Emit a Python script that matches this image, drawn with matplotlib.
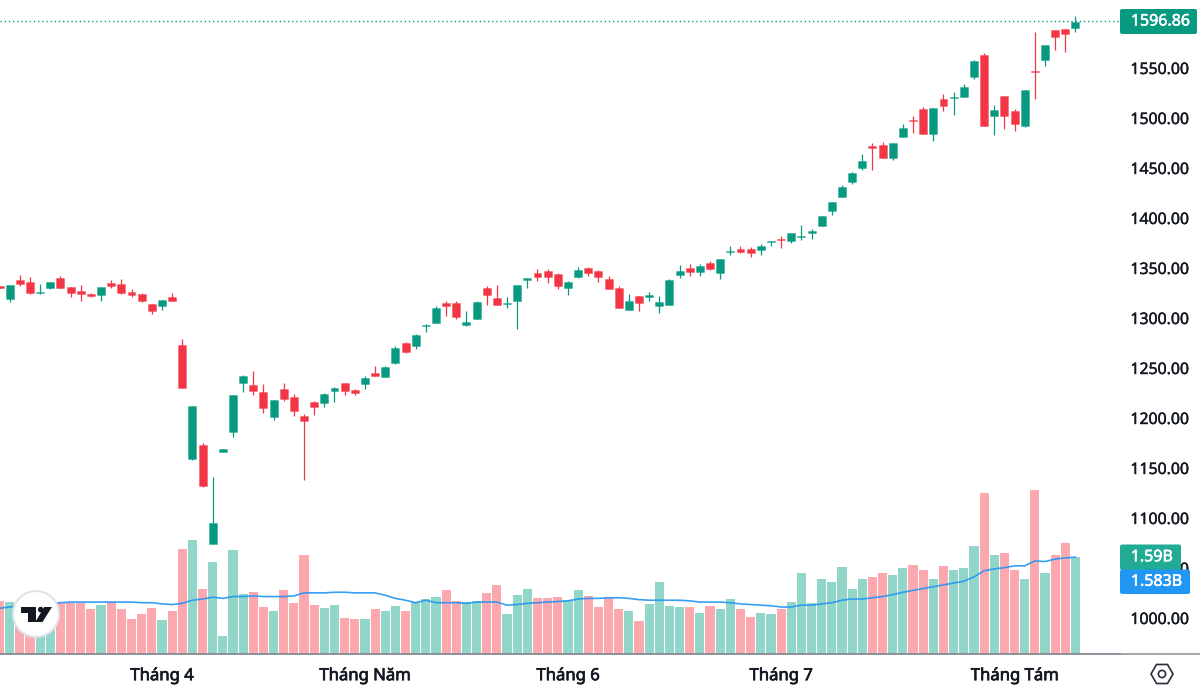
import matplotlib
matplotlib.use("Agg")
import matplotlib.pyplot as plt
import matplotlib.patheffects as pe
from matplotlib.patches import Circle, FancyBboxPatch, Polygon, RegularPolygon
from matplotlib.lines import Line2D
from matplotlib.transforms import IdentityTransform

plt.rcParams['font.family'] = ['Noto Sans', 'DejaVu Sans']

# Candles.
opens = [
    1332.3, 1319, 1338.3, 1336, 1325.3, 1330.3, 1340, 1330.7, 1327, 1324.3,
    1322.7, 1335.3, 1333.7, 1326, 1324.3, 1314, 1312.3, 1321.3, 1273, 1159.3,
    1173, 1073.7, 1166, 1185.7, 1235.3, 1233, 1225.7, 1201.3, 1229, 1220.7,
    1202, 1216, 1214.7, 1226.7, 1234.7, 1227.7, 1234.3, 1245, 1240.7, 1255.3,
    1275, 1272.3, 1292.3, 1294.7, 1315, 1314.7, 1292.7, 1298.7, 1329.7, 1320.3,
    1314.3, 1317.3, 1337.7, 1345, 1346.7, 1344, 1330, 1341, 1350.3, 1346.7,
    1339, 1329.7, 1307.7, 1322.3, 1320.7, 1312.3, 1313.3, 1343.3, 1350.3, 1346,
    1354.7, 1345, 1365.7, 1369, 1369, 1368, 1375.7, 1378.7, 1376.7, 1381,
    1385, 1392.3, 1406.7, 1420.7, 1436.3, 1450.3, 1472, 1473.3, 1460, 1481.3,
    1498, 1509, 1484, 1519, 1520.3, 1521.3, 1540.7, 1563, 1502, 1521.7,
    1506.7, 1492.3, 1547.3, 1557.7, 1588, 1589, 1590.3]
closes = [
    1330.3, 1332.7, 1334, 1325.3, 1326, 1336.3, 1330.3, 1324.7, 1323.7, 1321.7,
    1330.7, 1332, 1325.3, 1323.3, 1317, 1307, 1317.7, 1317, 1229.7, 1211.7,
    1132.3, 1095, 1168.7, 1222.7, 1242, 1227.3, 1210, 1217.7, 1219, 1207,
    1196.7, 1210.7, 1223.7, 1230, 1226.7, 1225, 1240.3, 1241.7, 1250.7, 1270.3,
    1266.3, 1283, 1293.3, 1310, 1312.3, 1301, 1296, 1315.7, 1322.7, 1313.3,
    1315, 1332.7, 1340, 1341, 1341.3, 1332, 1336.3, 1347.7, 1345, 1341.3,
    1329, 1310.3, 1316.7, 1315, 1323.3, 1315.7, 1338, 1347.3, 1346, 1352,
    1348.7, 1358.7, 1367, 1366.3, 1365.3, 1372, 1376.7, 1377.7, 1384.7, 1381.7,
    1386.7, 1402.3, 1415.7, 1431.3, 1445.3, 1457.3, 1470, 1460, 1475.3, 1490,
    1497.3, 1484, 1509.7, 1512, 1521, 1531.3, 1557.3, 1492.3, 1507.7, 1502,
    1494.3, 1528.3, 1546.3, 1573.3, 1581, 1583.7, 1596.3]
highs = [
    1332.3, 1332.7, 1343, 1340.7, 1334, 1336.3, 1342, 1330.7, 1333, 1325,
    1330.7, 1338.3, 1339.3, 1329, 1325, 1314, 1317.7, 1325, 1278.7, 1211.7,
    1175, 1141.3, 1168.7, 1222.7, 1243, 1247, 1233.7, 1217.7, 1234.7, 1223.7,
    1203.7, 1217, 1224.7, 1231, 1234.7, 1229.3, 1242, 1251.7, 1251.7, 1272,
    1276, 1284, 1294.3, 1312, 1317, 1316.7, 1306.7, 1316.7, 1331.7, 1332.7,
    1320.7, 1332.7, 1340, 1348.7, 1348.7, 1345, 1337.3, 1351.3, 1351.3, 1347.7,
    1342, 1331.7, 1324.3, 1322.3, 1326.3, 1321.7, 1339, 1353, 1354, 1354,
    1356.7, 1358.7, 1372, 1371.7, 1371, 1374, 1377, 1382, 1384.7, 1392.7,
    1388.7, 1402.3, 1415.7, 1432.7, 1446.3, 1464, 1474.7, 1476, 1475.3, 1493.7,
    1501.7, 1511.3, 1509.7, 1523.7, 1525.7, 1534, 1558.3, 1565, 1512.7, 1521.7,
    1509, 1528.3, 1585.7, 1573.3, 1588, 1589, 1602]
lows = [
    1330.3, 1316.3, 1332.3, 1324.3, 1324.3, 1329.3, 1330.3, 1321.3, 1317, 1321,
    1317, 1330.3, 1324.3, 1321.3, 1316.3, 1304, 1308.3, 1317, 1229.7, 1158.3,
    1131.3, 1073.7, 1166, 1181.3, 1226.3, 1223, 1205, 1198.3, 1217, 1202,
    1138, 1203, 1210.7, 1216.3, 1223, 1222.7, 1229.3, 1241.7, 1240.7, 1253.7,
    1265.3, 1268.7, 1286.3, 1294.7, 1302, 1299.3, 1292, 1298.7, 1313.3, 1313.3,
    1309.7, 1289, 1330.3, 1337.3, 1335.3, 1329, 1323.3, 1340, 1342.3, 1336.3,
    1329, 1310.3, 1307.7, 1306.7, 1317.3, 1305, 1313.3, 1340.3, 1342.3, 1342.3,
    1347.7, 1339.3, 1362.7, 1365, 1360.7, 1363, 1372.3, 1370.3, 1375.3, 1377.7,
    1379.3, 1392.3, 1403.3, 1420.7, 1434.3, 1448.3, 1448.3, 1460, 1457.7, 1481.3,
    1485, 1484, 1476.7, 1507.3, 1503.3, 1521.3, 1539, 1492.3, 1483, 1488.7,
    1486.7, 1491.3, 1519.3, 1552.3, 1568, 1566, 1586.3]

# Volume in billions, and its moving average.
volumes = [
    0.87, 0.85, 0.82, 0.80, 0.79, 0.80, 0.84, 0.84, 0.84, 0.73,
    0.80, 0.85, 0.74, 0.58, 0.65, 0.75, 0.56, 0.71, 1.71, 1.86,
    1.06, 1.51, 0.30, 1.70, 0.98, 1.01, 0.77, 0.71, 1.05, 0.84,
    1.61, 0.80, 0.75, 0.80, 0.59, 0.58, 0.58, 0.73, 0.71, 0.79,
    0.70, 0.85, 0.90, 0.93, 1.05, 0.86, 0.85, 0.86, 1.00, 1.12,
    0.65, 0.97, 1.06, 0.91, 0.91, 0.93, 0.88, 1.05, 0.95, 0.77,
    0.91, 0.73, 0.71, 0.54, 0.82, 1.17, 0.79, 0.77, 0.77, 0.67,
    0.79, 0.74, 0.90, 0.74, 0.61, 0.68, 0.65, 0.74, 0.85, 1.32,
    0.83, 1.23, 1.18, 1.42, 1.07, 1.23, 1.26, 1.33, 1.29, 1.41,
    1.45, 1.38, 1.23, 1.44, 1.38, 1.41, 1.77, 2.62, 1.62, 1.65,
    1.38, 1.23, 2.67, 1.32, 1.61, 1.81, 1.59]
volume_ma = [
    0.75, 0.77, 0.79, 0.81, 0.82, 0.83, 0.84, 0.85, 0.85, 0.85,
    0.85, 0.85, 0.85, 0.85, 0.84, 0.84, 0.82, 0.81, 0.83, 0.88,
    0.90, 0.93, 0.91, 0.94, 0.94, 0.95, 0.94, 0.94, 0.94, 0.95,
    1.00, 1.00, 1.00, 1.01, 1.01, 1.00, 1.00, 1.00, 0.96, 0.91,
    0.88, 0.84, 0.88, 0.84, 0.84, 0.84, 0.83, 0.85, 0.85, 0.85,
    0.80, 0.81, 0.83, 0.84, 0.85, 0.86, 0.87, 0.90, 0.91, 0.91,
    0.92, 0.92, 0.91, 0.89, 0.88, 0.88, 0.88, 0.88, 0.87, 0.85,
    0.85, 0.85, 0.84, 0.82, 0.81, 0.80, 0.79, 0.77, 0.77, 0.80,
    0.80, 0.82, 0.84, 0.88, 0.90, 0.90, 0.92, 0.94, 0.97, 1.01,
    1.04, 1.07, 1.10, 1.13, 1.16, 1.19, 1.26, 1.36, 1.39, 1.41,
    1.44, 1.44, 1.52, 1.51, 1.55, 1.57, 1.58]

price_ticks = [1000, 1050, 1100, 1150, 1200, 1250, 1300, 1350, 1400, 1450, 1500, 1550]
month_pos = [16, 36, 56, 77, 100]
month_labels = ['Tháng 4', 'Tháng Năm', 'Tháng 6', 'Tháng 7', 'Tháng Tám']
last_price = 1596.86

GREEN = '#089981'
RED = '#F23645'
VOL_GREEN = '#92D6C9'
VOL_RED = '#FCA8AF'
BLUE = '#2196F3'
TEXT = '#131722'
W, H = 1200, 689

x = list(range(len(opens)))
colors = [GREEN if c >= o else RED for o, c in zip(opens, closes)]
vol_colors = [VOL_GREEN if c >= o else VOL_RED for o, c in zip(opens, closes)]

fig = plt.figure(figsize=(W / 100, H / 100), dpi=100, facecolor='white')
ax = fig.add_axes([0, (H - 654.3) / H, 1120 / W, 654.3 / H])
ax_vol = ax.twinx()
ax.set_zorder(ax_vol.get_zorder() + 1)
ax.patch.set_visible(False)

# Volume pane shares the chart area.
ax_vol.bar(x, volumes, width=0.9, color=vol_colors, linewidth=0)
ax_vol.plot(x, volume_ma, color=BLUE, lw=1.2, alpha=0.9)
ax_vol.set_ylim(0, 10.65)
ax_vol.set_yticks([])

# Candles
ax.vlines(x, lows, highs, colors=colors, lw=0.9, zorder=3)
ax.bar(x, [abs(c - o) for o, c in zip(opens, closes)],
       bottom=[min(o, c) for o, c in zip(opens, closes)],
       width=0.78, color=colors, edgecolor=[(col, 0.4) for col in colors],
       linewidth=0.6, zorder=4)
ax.axhline(last_price, color=GREEN, lw=1.0, ls=(0, (1, 2)), zorder=2)

ax.set_xlim(0.044, 110.39)
ax.set_ylim(963.7, 1618)
ax.yaxis.tick_right()
ax.set_yticks(price_ticks)
ax.set_yticklabels(['%.2f' % p for p in price_ticks], fontsize=11.4, color=TEXT)
ax.set_xticks(month_pos)
ax.set_xticklabels(month_labels, fontsize=12, color=TEXT)
ax.tick_params(axis='both', length=0)
ax.tick_params(axis='y', pad=7.5)
ax.tick_params(axis='x', pad=10)
# no medium weight installed, a thin stroke thickens the labels
for lab in ax.get_yticklabels():
    lab.set_path_effects([pe.withStroke(linewidth=0.3, foreground=TEXT)])
for lab in ax.get_xticklabels():
    lab.set_path_effects([pe.withStroke(linewidth=0.5, foreground=TEXT)])
for a in (ax, ax_vol):
    for side in ('top', 'left', 'right'):
        a.spines[side].set_visible(False)
    a.spines['bottom'].set_color('#8A8E97')
    a.spines['bottom'].set_linewidth(1.1)


def px(xp, yp):
    return (xp, H - yp)


def add(patch):
    patch.set_transform(IdentityTransform())
    patch.set_zorder(6)
    fig.add_artist(patch)
    patch.set_transform(IdentityTransform())
    return patch


fig.add_artist(Line2D([1121, W], [H - 654.3, H - 654.3], color='#8A8E97', lw=1.1,
                      transform=IdentityTransform(), zorder=6))

# Value labels on the right scale
for x0, y0, x1, y1, col, label, tx in [
    (1120, 9, 1197, 34, GREEN, '1596.86', 1190),
    (1120, 544.5, 1181, 570, '#22AB94', '1.59B', 1173),
    (1120, 569.5, 1190, 594, BLUE, '1.583B', 1182),
]:
    add(FancyBboxPatch(px(x0, y1), x1 - x0, y1 - y0,
                       boxstyle='round,pad=0,rounding_size=2', fc=col, ec='none'))
    t = fig.text(tx / W, 1 - ((y0 + y1) / 2) / H, label, color='white', fontsize=11.5,
                 ha='right', va='center', zorder=7)
    t.set_path_effects([pe.withStroke(linewidth=0.4, foreground='white')])

# Logo badge
add(Circle(px(36, 614), 23, fc='white', ec='#E0E3EB', lw=1.5))
add(Polygon([px(21, 607), px(35.7, 607), px(35.7, 622), px(28.3, 622),
             px(28.3, 612.5), px(21, 612.5)], closed=True, fc=TEXT, ec='none'))
add(Circle(px(40.7, 609.6), 2.8, fc=TEXT, ec='none'))
add(Polygon([px(44.3, 607), px(52, 607), px(42.5, 622), px(35.3, 622)],
            closed=True, fc=TEXT, ec='none'))

# Settings hexagon
add(RegularPolygon(px(1162, 674), 6, radius=11, orientation=0.5236, fc='none',
                   ec='#2A2E39', lw=1.2))
add(Circle(px(1162, 674), 3.6, fc='none', ec='#2A2E39', lw=1.2))

fig.savefig('out.png', dpi=100, facecolor='white')
